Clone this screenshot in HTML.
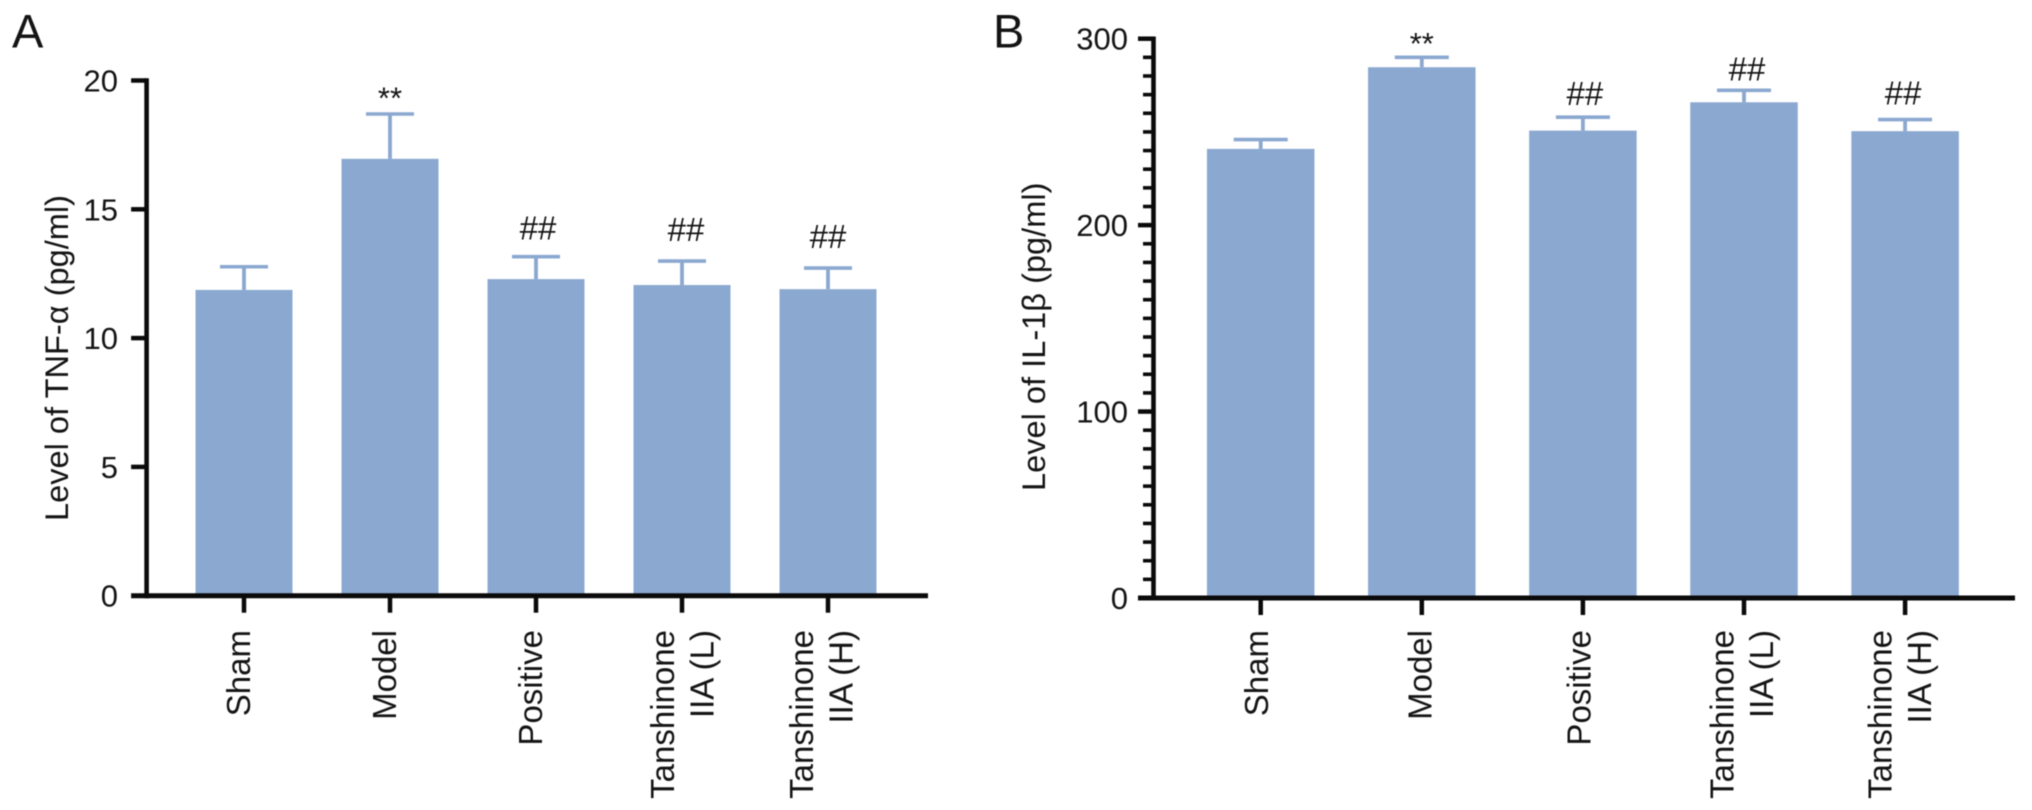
<!DOCTYPE html>
<html lang="en">
<head>
<meta charset="utf-8">
<title>TNF-α and IL-1β levels</title>
<style>
html,body{margin:0;padding:0;background:#fff;width:2032px;height:810px;overflow:hidden}
svg{display:block;filter:blur(0.6px)}
text{font-family:"Liberation Sans",sans-serif;fill:#141414}
</style>
</head>
<body>
<svg id="figure" xmlns="http://www.w3.org/2000/svg" width="2032" height="810" viewBox="0 0 2032 810">
  <rect width="2032" height="810" fill="#fff"/>
  <text x="12" y="47.5" font-size="47">A</text>
  <text x="993" y="47.5" font-size="47">B</text>
  <text transform="translate(68,521) rotate(-90)" font-size="32.6">Level of TNF-α (pg/ml)</text>
  <text transform="translate(1045,491) rotate(-90)" font-size="32.6">Level of IL-1β (pg/ml)</text>
  <g id="panel-a"></g>
  <g id="panel-b"></g>
</svg>
<script>
// Shared categories
const categories = ["Sham", "Model", "Positive", "Tanshinone|IIA (L)", "Tanshinone|IIA (H)"];

// Panel A: TNF-alpha values
const tnfMeans = [11.87, 16.96, 12.29, 12.06, 11.9];
const tnfErrors = [0.9, 1.74, 0.87, 0.93, 0.82];
const tnfMarks = ["", "**", "##", "##", "##"];
const tnfTicks = [0, 5, 10, 15, 20];
const tnfMinorTicks = [];

// Panel B: IL-1beta values
const il1Means = [240.9, 284.7, 250.7, 265.9, 250.4];
const il1Errors = [5, 5.3, 7.2, 6.4, 6.2];
const il1Marks = ["", "**", "##", "##", "##"];
const il1Ticks = [0, 100, 200, 300];
const il1MinorTicks = [10, 20, 30, 40, 50, 60, 70, 80, 90, 110, 120, 130, 140, 150, 160, 170, 180, 190, 210, 220, 230, 240, 250, 260, 270, 280, 290];

const NS = "http://www.w3.org/2000/svg";
const BAR = "#8ba8d0";
const AXIS = "#0a0a0a";

function shape(parent, tag, attrs) {
  const el = document.createElementNS(NS, tag);
  for (const k in attrs) el.setAttribute(k, attrs[k]);
  parent.appendChild(el);
  return el;
}

function drawPanel(root, cfg) {
  const y = v => cfg.y0 - (v - cfg.min) / (cfg.max - cfg.min) * (cfg.y0 - cfg.yTop);
  const x = i => cfg.x0 + i * cfg.step;

  // Bars and error bars
  cfg.means.forEach((m, i) => {
    const cx = x(i);
    const top = y(m);
    const capY = y(m + cfg.errors[i]);

    const stem = shape(root, "line", {x1: cx, x2: cx, y1: top, y2: capY, stroke: BAR, "stroke-width": 3.8});
    
    

    const cap = shape(root, "line", {x1: cx - cfg.capW / 2, x2: cx + cfg.capW / 2, y1: capY, y2: capY, stroke: BAR, "stroke-width": 3.6});
    
    

    const bar = shape(root, "rect", {x: cx - cfg.barW / 2, y: top, width: cfg.barW, height: cfg.y0 - top, fill: BAR});
    
    

    // Significance marks
    const mark = cfg.marks[i];
    if (mark) {
      const stars = mark === "**";
      const t = shape(root, "text", {
        x: cx + (stars ? 0 : cfg.hashShift[i]),
        y: capY - (stars ? cfg.starGap : cfg.hashGap[i]),
        "text-anchor": "middle",
        "font-size": stars ? 31 : 33
      });
      t.textContent = mark;
      
      
    }

    // X tick
    const tick = shape(root, "line", {x1: cx, x2: cx, y1: cfg.y0, y2: cfg.y0 + 17, stroke: AXIS, "stroke-width": 4.5});
    
    

    // Category label, rotated, one or two lines
    const lines = categories[i].split("|");
    lines.forEach((ln, j) => {
      const base = lines.length === 1 ? cfg.singleOffset : (j === 0 ? cfg.firstOffset : cfg.firstOffset + cfg.linePitch);
      const bx = cx + base + cfg.labelNudge[i];
      const lab = shape(root, "text", {
        transform: "translate(" + bx + "," + cfg.labelTop + ") rotate(-90)",
        "text-anchor": "end",
        "font-size": 33
      });
      lab.textContent = ln;
      
      
    });
  });

  // Axes
  const yAxis = shape(root, "line", {x1: cfg.axisX, x2: cfg.axisX, y1: y(cfg.max) - 2.25, y2: cfg.y0 + 2.5, stroke: AXIS, "stroke-width": 4.6});
  
  

  const xAxis = shape(root, "line", {x1: cfg.axisX - 15.5, x2: cfg.axisEnd, y1: cfg.y0, y2: cfg.y0, stroke: AXIS, "stroke-width": 5});
  
  

  cfg.ticks.forEach(v => {
    const ty = y(v);
    if (v !== cfg.min) {
      const tk = shape(root, "line", {x1: cfg.axisX - 15.5, x2: cfg.axisX, y1: ty, y2: ty, stroke: AXIS, "stroke-width": 4.5});
      
      
    }
    const lb = shape(root, "text", {x: cfg.labelRight, y: ty + 11, "text-anchor": "end", "font-size": 31});
    lb.textContent = v;
    
    
  });

  cfg.minor.forEach(v => {
    const ty = y(v);
    const mt = shape(root, "line", {x1: cfg.axisX - 10.5, x2: cfg.axisX, y1: ty, y2: ty, stroke: AXIS, "stroke-width": 3.6});
    
    
  });
}

drawPanel(document.getElementById("panel-a"), {
  means: tnfMeans, errors: tnfErrors, marks: tnfMarks, ticks: tnfTicks, minor: tnfMinorTicks,
  min: 0, max: 20, y0: 595.7, yTop: 80.5,
  x0: 244, step: 146, barW: 97, capW: 48,
  axisX: 146.6, axisEnd: 928, labelRight: 118, labelTop: 630,
  starGap: 5.5, hashGap: [0, 0, 17, 20, 20], hashShift: [0, 0, 2, 4, 0],
  singleOffset: 6, firstOffset: -11, linePitch: 39.5, labelNudge: [0, 0, 0, 3, -4]
});

drawPanel(document.getElementById("panel-b"), {
  means: il1Means, errors: il1Errors, marks: il1Marks, ticks: il1Ticks, minor: il1MinorTicks,
  min: 0, max: 300, y0: 598, yTop: 38.7,
  x0: 1260.7, step: 161.1, barW: 107.5, capW: 54,
  axisX: 1153.5, axisEnd: 2015, labelRight: 1128, labelTop: 630,
  starGap: 3.5, hashGap: [0, 0, 12, 10, 15], hashShift: [0, 0, 2, 3, -2],
  singleOffset: 7.5, firstOffset: -11.5, linePitch: 39.5, labelNudge: [0, 2, 0, 1, -2]
});
</script>
</body>
</html>
